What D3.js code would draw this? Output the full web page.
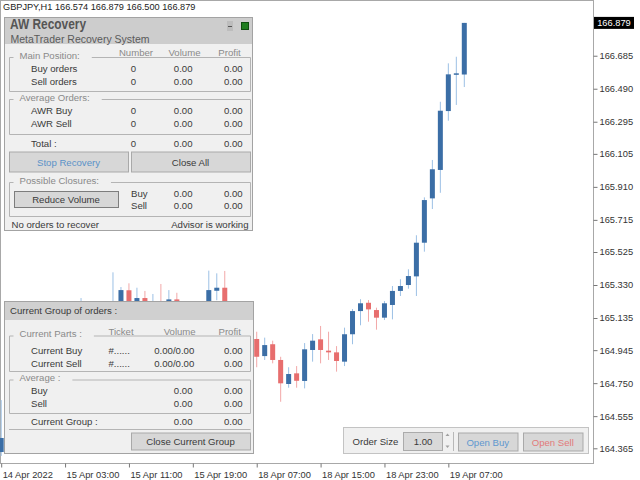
<!DOCTYPE html>
<html>
<head>
<meta charset="utf-8">
<script src="https://cdn.jsdelivr.net/npm/d3@7/dist/d3.min.js"></script>
<style>
  body { margin: 0; background: #fff; }
  svg { display: block; font-family: "Liberation Sans", Arial, sans-serif; }
</style>
</head>
<body>
<svg id="chart" width="640" height="480"></svg>
<script>
// chart data
const symbolTitle = "GBPJPY,H1  166.574 166.879 166.500 166.879";
const timeLabels = ["14 Apr 2022", "15 Apr 03:00", "15 Apr 11:00", "15 Apr 19:00",
                    "18 Apr 07:00", "18 Apr 15:00", "18 Apr 23:00", "19 Apr 07:00"];
const timeTickBars = [0, 8, 16, 24, 32, 40, 48, 56];
const priceTicks = [166.685, 166.490, 166.295, 166.105, 165.910, 165.715, 165.525,
                    165.330, 165.135, 164.945, 164.750, 164.555, 164.365];
const lastPrice = 166.879;

const opens  = [164.343, 164.426, 164.49, 164.55, 164.63, 164.61, 164.75, 164.83, 164.80, 164.95,
                165.06, 165.19, 165.12, 165.17, 165.14, 165.18, 165.299, 165.19, 165.253, 165.15,
                165.18, 165.16, 165.245, 165.14, 165.09, 165.15, 165.18, 165.296, 165.314, 165.20,
                165.08, 165.02, 165.011, 164.910, 164.980, 164.887, 164.745, 164.808, 164.763, 164.946,
                165.009, 164.942, 164.932, 164.877, 165.039, 165.176, 165.225, 165.182, 165.137, 165.212,
                165.295, 165.330, 165.381, 165.580, 165.842, 166.010, 166.358, 166.577, 166.574];
const highs  = [164.65, 164.52, 164.58, 164.66, 164.70, 164.78, 164.86, 164.92, 164.98, 165.10,
                165.253, 165.21, 165.20, 165.21, 165.405, 165.318, 165.340, 165.314, 165.295, 165.277,
                165.336, 165.300, 165.284, 165.20, 165.18, 165.21, 165.415, 165.399, 165.413, 165.22,
                165.15, 165.10, 165.054, 165.019, 165.001, 164.906, 164.844, 164.851, 164.987, 165.040,
                165.088, 165.054, 164.969, 165.078, 165.188, 165.246, 165.241, 165.196, 165.235, 165.324,
                165.364, 165.423, 165.624, 165.848, 166.069, 166.413, 166.640, 166.679, 166.879];
const lows   = [164.32, 164.40, 164.45, 164.52, 164.58, 164.59, 164.72, 164.78, 164.78, 164.92,
                165.03, 165.08, 165.07, 165.10, 165.12, 165.15, 165.16, 165.15, 165.12, 165.10,
                165.12, 165.12, 165.10, 165.05, 165.04, 165.10, 165.15, 165.24, 165.15, 165.05,
                164.98, 164.95, 164.844, 164.887, 164.867, 164.640, 164.723, 164.723, 164.719, 164.877,
                164.867, 164.887, 164.818, 164.851, 164.980, 165.092, 165.113, 165.066, 165.123, 165.127,
                165.265, 165.308, 165.265, 165.527, 165.779, 165.875, 166.301, 166.394, 166.500];
const closes = [164.426, 164.49, 164.55, 164.63, 164.61, 164.75, 164.83, 164.80, 164.95, 165.06,
                165.19, 165.12, 165.17, 165.14, 165.20, 165.300, 165.19, 165.253, 165.15, 165.18,
                165.16, 165.245, 165.14, 165.09, 165.15, 165.18, 165.300, 165.314, 165.20, 165.08,
                165.02, 165.011, 164.906, 164.975, 164.887, 164.749, 164.804, 164.764, 164.950, 165.001,
                164.946, 164.932, 164.881, 165.039, 165.176, 165.222, 165.186, 165.137, 165.222, 165.295,
                165.324, 165.383, 165.580, 165.832, 166.014, 166.360, 166.575, 166.581, 166.879];

// panel texts
const mainHeaders = ["Number", "Volume", "Profit"];
const mainRows = [["Buy orders", "0", "0.00", "0.00"], ["Sell orders", "0", "0.00", "0.00"]];
const avgRows = [["AWR Buy", "0", "0.00", "0.00"], ["AWR Sell", "0", "0.00", "0.00"]];
const totalRow = ["Total :", "0", "0.00", "0.00"];
const closureRows = [["Buy", "0.00", "0.00"], ["Sell", "0.00", "0.00"]];
const groupHeaders = ["Ticket", "Volume", "Profit"];
const partRows = [["Current Buy", "#......", "0.00/0.00", "0.00"], ["Current Sell", "#......", "0.00/0.00", "0.00"]];
const groupAvgRows = [["Buy", "0.00", "0.00"], ["Sell", "0.00", "0.00"]];
const groupTotalRow = ["Current Group :", "0.00", "0.00"];

const BLUE = "#3b6ea6", RED = "#e76e6e";
const BLUE_WICK = "#9cc0e5", RED_WICK = "#f2a8a8";
const PANEL_BG = "#f0f0f0", LINE = "#b4b4b4", LABEL = "#8a8a8a", TEXT = "#3a3a3a";
const FS = 9.6;

const svg = d3.select("#chart");
const chartW = 593, chartH = 463;

const x = d3.scaleLinear().domain([0, 58]).range([1.2, 464.3]);
const y = d3.scaleLinear().domain([164.365, 166.879]).range([448.3, 22.9]);

const bars = opens.map((o, i) => ({ i, o, h: highs[i], l: lows[i], c: closes[i] }));

// frame
svg.append("rect")
    .attr("x", 0.5).attr("y", 0.5)
    .attr("width", chartW).attr("height", chartH)
    .attr("fill", "#fff").attr("stroke", "#a8a8a8");

// candles
const plot = svg.append("g");
plot.selectAll("line.wick").data(bars).join("line")
    .attr("class", "wick")
    .attr("x1", d => x(d.i)).attr("x2", d => x(d.i))
    .attr("y1", d => y(d.h)).attr("y2", d => y(d.l))
    .attr("stroke", d => d.c >= d.o ? BLUE_WICK : RED_WICK)
    .attr("stroke-width", 1);
plot.selectAll("rect.body").data(bars).join("rect")
    .attr("class", "body")
    .attr("x", d => x(d.i) - 2.5).attr("width", 5)
    .attr("y", d => y(Math.max(d.o, d.c)))
    .attr("height", d => Math.max(1.5, Math.abs(y(d.o) - y(d.c))))
    .attr("fill", d => d.c >= d.o ? BLUE : RED);

// axes
const yAxis = d3.axisRight(y)
    .tickValues(priceTicks)
    .tickFormat(d3.format(".3f"))
    .tickSize(4).tickPadding(2);
svg.append("g")
    .attr("transform", `translate(${chartW + 0.5},0)`)
    .call(yAxis)
    .call(g => g.select(".domain").remove())
    .call(g => g.selectAll(".tick line").attr("stroke", "#777"))
    .call(g => g.selectAll("text").attr("fill", "#333"))
    .attr("font-family", null).attr("font-size", 9.3);

const xAxis = d3.axisBottom(x)
    .tickValues(timeTickBars)
    .tickFormat((d, i) => timeLabels[i])
    .tickSize(4).tickPadding(4);
svg.append("g")
    .attr("transform", `translate(0,${chartH + 0.5})`)
    .call(xAxis)
    .call(g => g.select(".domain").remove())
    .call(g => g.selectAll(".tick line").attr("stroke", "#777"))
    .call(g => g.selectAll("text").attr("text-anchor", "start").attr("x", 1).attr("fill", "#333"))
    .attr("font-family", null).attr("font-size", 9.3);

// last price marker
const priceTag = svg.append("g").attr("transform", `translate(594,${y(lastPrice)})`);
priceTag.append("rect").attr("x", 0).attr("y", -6).attr("width", 40).attr("height", 12).attr("fill", "#000");
priceTag.append("text").attr("x", 20).attr("y", 0.5)
    .attr("text-anchor", "middle").attr("dominant-baseline", "central")
    .attr("font-size", 9.3).attr("fill", "#fff").text(d3.format(".3f")(lastPrice));

svg.append("text").attr("x", 3).attr("y", 6.5)
    .attr("dominant-baseline", "central").attr("font-size", 9.2).attr("fill", "#222")
    .text(symbolTitle);

// ---- helpers for the EA panels ----
function label(g, tx, ty, str, opts = {}) {
    return g.append("text")
        .attr("x", tx).attr("y", ty)
        .attr("dominant-baseline", "central")
        .attr("text-anchor", opts.anchor || "start")
        .attr("font-size", opts.size || FS)
        .attr("font-weight", opts.weight || null)
        .attr("fill", opts.color || TEXT)
        .text(str);
}

function groupBox(g, x0, y0, x1, y1, title) {
    const t = label(g, x0 + 10, y0 - 2.5, title, { color: LABEL });
    const gapEnd = x0 + 10 + t.node().getComputedTextLength() + 12;
    g.append("path")
        .attr("d", `M${x0 + 4},${y0}H${x0}V${y1}H${x1}V${y0}H${gapEnd}`)
        .attr("fill", "none").attr("stroke", LINE);
}

function button(g, x0, y0, w, h, str, color, stroke) {
    g.append("rect").attr("x", x0 + 0.5).attr("y", y0 + 0.5).attr("width", w).attr("height", h)
        .attr("fill", "#d7d7d7").attr("stroke", stroke || "#a9a9a9");
    label(g, x0 + w / 2, y0 + h / 2 + 0.5, str, { anchor: "middle", color: color || TEXT });
}

function statRows(g, rows, y0, step) {
    rows.forEach((r, k) => {
        const ry = y0 + k * step;
        label(g, 31, ry, r[0]);
        label(g, 133.3, ry, r[1], { anchor: "middle" });
        label(g, 192.5, ry, r[2], { anchor: "end" });
        label(g, 242.7, ry, r[3], { anchor: "end" });
    });
}

// ---- top panel: AW Recovery ----
const recPanel = svg.append("g");
recPanel.append("rect").attr("x", 4.5).attr("y", 17.5).attr("width", 248).attr("height", 213)
    .attr("fill", PANEL_BG).attr("stroke", "#a3a3a3");
recPanel.append("rect").attr("x", 5).attr("y", 18).attr("width", 247).attr("height", 26).attr("fill", "#cdcdcd");
label(recPanel, 10, 24.3, "AW Recovery", { size: 14, weight: "bold", color: "#555" })
    .attr("textLength", 76).attr("lengthAdjust", "spacingAndGlyphs");
label(recPanel, 10.5, 38.6, "MetaTrader Recovery System", { size: 10.5, color: "#5a5a5a" });
recPanel.append("rect").attr("x", 227).attr("y", 21).attr("width", 6).attr("height", 10).attr("fill", "#bdbdbd");
recPanel.append("line").attr("x1", 228).attr("x2", 232).attr("y1", 26.5).attr("y2", 26.5).attr("stroke", "#555");
recPanel.append("rect").attr("x", 241.5).attr("y", 22.5).attr("width", 7).attr("height", 7)
    .attr("fill", "#1f7d1f").attr("stroke", "#0f4d0f");

mainHeaders.forEach((h, i) => label(recPanel, [136, 184.5, 229.5][i], 52, h, { anchor: "middle", color: LABEL }));
groupBox(recPanel, 9.5, 57.5, 250.5, 91.5, "Main Position:");
statRows(recPanel, mainRows, 68.5, 12.6);
groupBox(recPanel, 9.5, 99.5, 250.5, 134.5, "Average Orders:");
statRows(recPanel, avgRows, 110.8, 12.6);
statRows(recPanel, [totalRow], 143.5, 0);

button(recPanel, 9, 151.5, 119, 20, "Stop Recovery", "#5a92c8");
button(recPanel, 131, 151.5, 119, 20, "Close All");

groupBox(recPanel, 9.5, 182.5, 250.5, 216.5, "Possible Closures:");
button(recPanel, 14, 191, 104, 16, "Reduce Volume", TEXT, "#7d7d7d");
closureRows.forEach((r, k) => {
    const ry = 193.5 + k * 12.4;
    label(recPanel, 131, ry, r[0]);
    label(recPanel, 192.5, ry, r[1], { anchor: "end" });
    label(recPanel, 242.7, ry, r[2], { anchor: "end" });
});
label(recPanel, 11.5, 224, "No orders to recover");
label(recPanel, 248.5, 224, "Advisor is working", { anchor: "end" });

// ---- bottom panel: current group ----
const grp = svg.append("g");
grp.append("rect").attr("x", 4.5).attr("y", 301.5).attr("width", 249).attr("height", 152)
    .attr("fill", PANEL_BG).attr("stroke", "#a3a3a3");
grp.append("rect").attr("x", 5).attr("y", 302).attr("width", 248).attr("height", 18).attr("fill", "#d0d0d0");
label(grp, 10, 310.5, "Current Group of orders :");

groupHeaders.forEach((h, i) => label(grp, [121, 179.7, 229.7][i], 331, h, { anchor: "middle", color: LABEL }));
groupBox(grp, 9.5, 336, 250.5, 371.5, "Current Parts :");
partRows.forEach((r, k) => {
    const ry = 350.7 + k * 12.4;
    label(grp, 31, ry, r[0]);
    label(grp, 108.5, ry, r[1]);
    label(grp, 194.3, ry, r[2], { anchor: "end" });
    label(grp, 242.7, ry, r[3], { anchor: "end" });
});
groupBox(grp, 9.5, 380, 250.5, 413.5, "Average :");
groupAvgRows.forEach((r, k) => {
    const ry = 390.5 + k * 12.5;
    label(grp, 31, ry, r[0]);
    label(grp, 192.5, ry, r[1], { anchor: "end" });
    label(grp, 242.7, ry, r[2], { anchor: "end" });
});
label(grp, 31, 421.5, groupTotalRow[0]);
label(grp, 192.5, 421.5, groupTotalRow[1], { anchor: "end" });
label(grp, 242.7, 421.5, groupTotalRow[2], { anchor: "end" });
grp.append("line").attr("x1", 9).attr("x2", 250.5).attr("y1", 429.5).attr("y2", 429.5).attr("stroke", LINE);
button(grp, 131, 432.5, 119, 17, "Close Current Group");

// ---- order bar ----
const ord = svg.append("g");
ord.append("rect").attr("x", 343.5).attr("y", 427.5).attr("width", 245).attr("height", 26)
    .attr("fill", PANEL_BG).attr("stroke", "#c3c3c3");
label(ord, 352.5, 441.5, "Order Size");
ord.append("rect").attr("x", 403.5).attr("y", 432.5).attr("width", 39).attr("height", 18)
    .attr("fill", "#d9d9d9").attr("stroke", "#ababab");
label(ord, 423, 441.8, "1.00", { anchor: "middle" });
ord.append("path").attr("d", "M445.5,436L447.5,433.5L449.5,436Z").attr("fill", "#a0a0a0");
ord.append("path").attr("d", "M445.5,445.5L447.5,448L449.5,445.5Z").attr("fill", "#a0a0a0");
ord.append("line").attr("x1", 453.5).attr("x2", 453.5).attr("y1", 432).attr("y2", 451).attr("stroke", "#b8b8b8");
button(ord, 458, 432.5, 59.5, 18, "Open Buy", "#5f97cf");
button(ord, 523, 432.5, 59.5, 18, "Open Sell", "#e27a7a");
</script>
</body>
</html>
